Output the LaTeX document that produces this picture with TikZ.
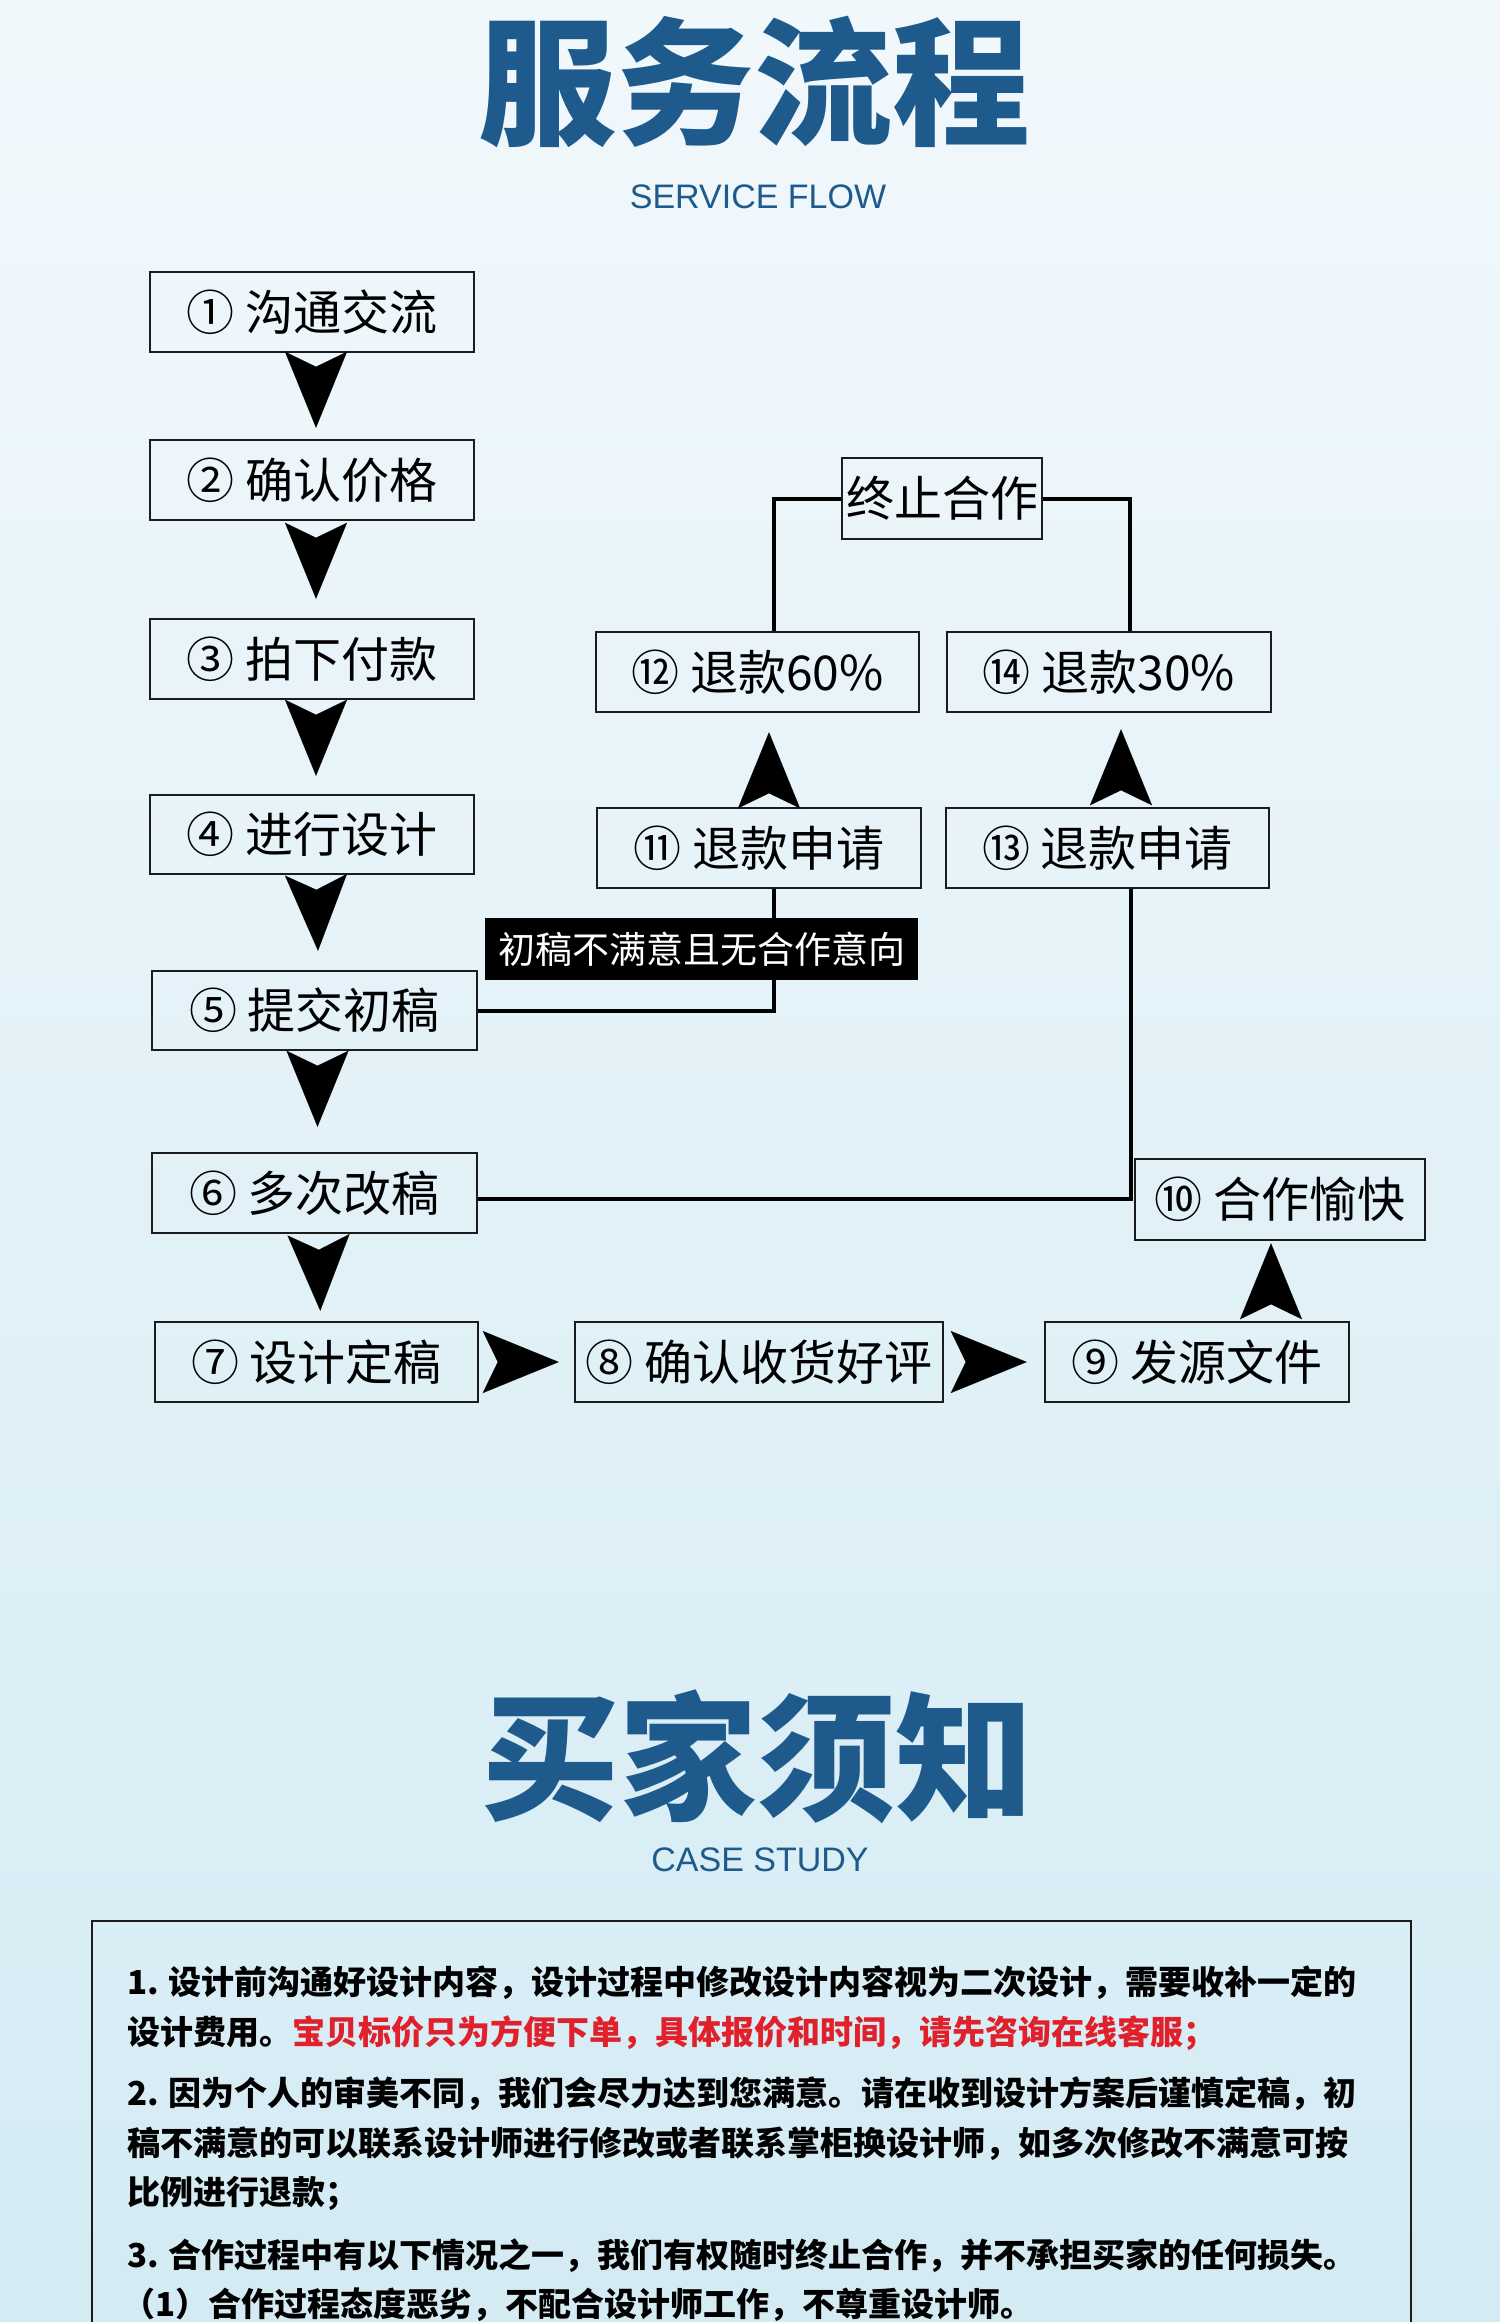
\documentclass[tikz,border=0pt]{standalone}
\usepackage{fontspec}
\setmainfont{Noto Sans CJK SC}
\newfontfamily\latinsans{Liberation Sans}
\usetikzlibrary{arrows.meta,calc}
\definecolor{titleblue}{HTML}{1E5A8C}
\definecolor{bgtop}{HTML}{F1F8FC}
\definecolor{bgmid}{HTML}{DEF0F6}
\definecolor{bgbot}{HTML}{D4EBF4}
\definecolor{redtxt}{HTML}{E0202A}
\definecolor{boxline}{HTML}{1C1C1C}
\begin{document}
\begin{tikzpicture}[x=1pt,y=-1pt,
  flowbox/.style={draw=boxline, line width=2.5pt, inner sep=0pt, minimum height=80pt,
    font=\fontsize{48}{50}\selectfont},
  dart/.style={line width=0.1pt, shorten <=20pt, -{Stealth[length=76pt,width=62pt,inset=15pt]}},
  conn/.style={line width=4pt, black},
  bigtitle/.style={text=titleblue, font=\fontsize{138}{140}\selectfont\bfseries},
  subtitle/.style={text=titleblue, font=\latinsans\fontsize{34}{36}\selectfont},
  notice/.style={anchor=west, inner sep=0pt, font=\fontsize{33}{35}\selectfont\bfseries, text=black}
]
\useasboundingbox (0,0) rectangle (1500,2322);
\clip (0,0) rectangle (1500,2322);
\shade[top color=bgtop, middle color=bgmid, bottom color=bgbot] (0,0) rectangle (1500,2322);

% titles
\node[bigtitle] (t1) at (754,82) {服务流程};
\node[subtitle] (s1) at (758,197) {SERVICE FLOW};

% left column
\node[flowbox, minimum width=324pt] (n1) at (312,312) {① 沟通交流};
\node[flowbox, minimum width=324pt] (n2) at (312,480) {② 确认价格};
\node[flowbox, minimum width=324pt] (n3) at (312,659) {③ 拍下付款};
\node[flowbox, minimum width=324pt, minimum height=79pt] (n4) at (312,834.5) {④ 进行设计};
\node[flowbox, minimum width=325pt, minimum height=79pt] (n5) at (314.5,1010.5) {⑤ 提交初稿};
\node[flowbox, minimum width=325pt] (n6) at (314.5,1193) {⑥ 多次改稿};
\node[flowbox, minimum width=323pt] (n7) at (316.5,1362) {⑦ 设计定稿};
\node[flowbox, minimum width=368pt] (n8) at (759,1362) {⑧ 确认收货好评};
\node[flowbox, minimum width=304pt] (n9) at (1197,1362) {⑨ 发源文件};
\node[flowbox, minimum width=290pt, minimum height=81pt] (n10) at (1280,1199.5) {⑩ 合作愉快};

% right part
\node[flowbox, minimum width=324pt] (n11) at (759,848) {⑪ 退款申请};
\node[flowbox, minimum width=323pt] (n13) at (1107.5,848) {⑬ 退款申请};
\node[flowbox, minimum width=323pt] (n12) at (757.5,672) {⑫ 退款60\%};
\node[flowbox, minimum width=324pt] (n14) at (1109,672) {⑭ 退款30\%};
\node[flowbox, minimum width=200pt, minimum height=81pt] (stop) at (942,498.5) {终止合作};

% connectors
\draw[conn] (stop.west) -| ([xshift=16pt]n12.north);
\draw[conn] (stop.east) -| ([xshift=21pt]n14.north);
\draw[conn] (n5.east) -| ([xshift=15pt]n11.south);
\draw[conn] ([yshift=-6pt]n6.east) -| ([xshift=23pt]n13.south);

\node[fill=black, text=white, inner sep=0pt, minimum width=433pt, minimum height=62pt,
  font=\fontsize{37}{39}\selectfont] (lbl) at (701.5,949) {初稿不满意且无合作意向};

% dart arrows
\draw[dart, shorten >=11pt] ([xshift=4pt]n1.south) -- ([xshift=4pt]n2.north);
\draw[dart, shorten >=19pt] ([xshift=4pt]n2.south) -- ([xshift=4pt]n3.north);
\draw[dart, shorten >=18pt] ([xshift=4pt]n3.south) -- ([xshift=4pt]n4.north);
\draw[dart, shorten >=19pt] ([xshift=4pt]n4.south) -- ([xshift=4pt]n5.north);
\draw[dart, shorten >=25pt] ([xshift=3pt]n5.south) -- ([xshift=3pt]n6.north);
\draw[dart, shorten >=10pt] ([xshift=4pt]n6.south) -- ([xshift=4pt]n7.north);
\draw[dart, shorten >=15pt] ([xshift=5pt]n7.east) -- (n8.west);
\draw[dart, shorten >=17pt] ([xshift=6pt]n8.east) -- (n9.west);
\draw[dart, shorten >=2pt] ([xshift=74pt]n9.north) -- ([xshift=-9pt]n10.south);
\draw[dart, shorten >=19pt] ([xshift=10pt]n11.north) -- ([xshift=11.5pt]n12.south);
\draw[dart, shorten >=16pt] ([xshift=13.5pt]n13.north) -- ([xshift=12pt]n14.south);

% second title
\node[bigtitle] (t2) at (757,1757) {买家须知};
\node[subtitle] (s2) at (760,1860) {CASE STUDY};

% notice box
\draw[draw=boxline, line width=2pt] (92,1921) rectangle (1411,2380);
\node[notice] (l1) at (127,1983) {1. 设计前沟通好设计内容，设计过程中修改设计内容视为二次设计，需要收补一定的};
\node[notice] (l2) at (127,2033) {设计费用。\textcolor{redtxt}{宝贝标价只为方便下单，具体报价和时间，请先咨询在线客服；}};
\node[notice] (l3) at (127,2094) {2. 因为个人的审美不同，我们会尽力达到您满意。请在收到设计方案后谨慎定稿，初};
\node[notice] (l4) at (127,2144) {稿不满意的可以联系设计师进行修改或者联系掌柜换设计师，如多次修改不满意可按};
\node[notice] (l5) at (127,2193) {比例进行退款；};
\node[notice] (l6) at (127,2256) {3. 合作过程中有以下情况之一，我们有权随时终止合作，并不承担买家的任何损失。};
\node[notice] (l7) at (122,2305) {（1）合作过程态度恶劣，不配合设计师工作，不尊重设计师。};
\end{tikzpicture}
\end{document}
